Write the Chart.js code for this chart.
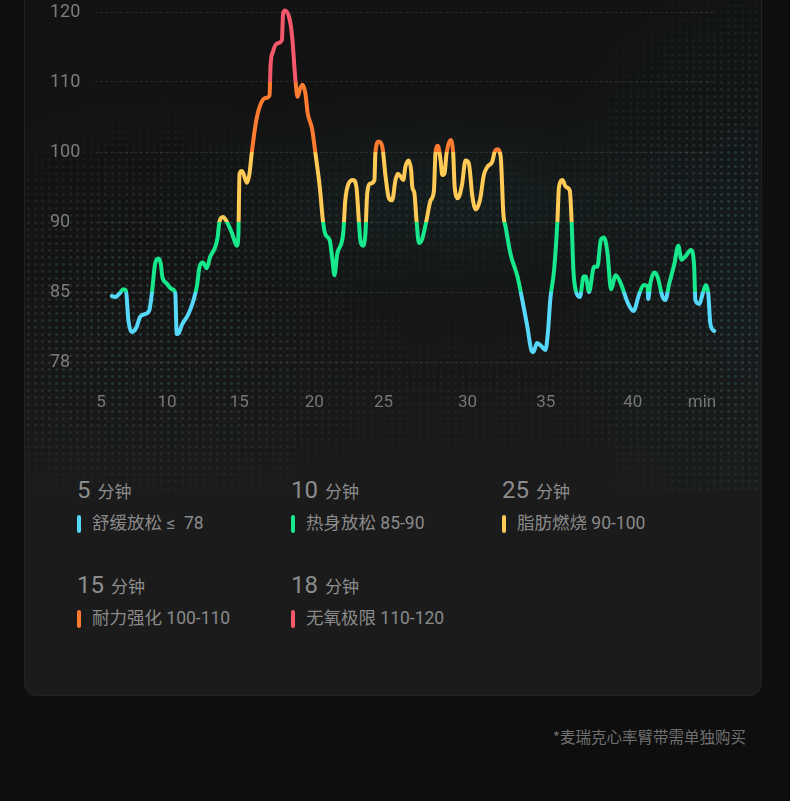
<!DOCTYPE html>
<html lang="zh-CN">
<head>
  <meta charset="UTF-8">
  <title>心率区间</title>
  <script src="https://cdn.jsdelivr.net/npm/chart.js@4.4.0/dist/chart.umd.min.js"></script>
  <style>
    html, body { margin: 0; padding: 0; background: #0e0e0e; }
    body { width: 790px; height: 801px; position: relative; overflow: hidden;
           font-family: Roboto, "Noto Sans CJK SC", sans-serif; }
    .card { position: absolute; left: 24px; top: -20px; width: 738px; height: 716px;
            box-sizing: border-box; border-radius: 12px; background: #1b1b1b;
            border: 1px solid #222; overflow: hidden; }
    .card .bg { position: absolute; left: 0; top: 0; width: 100%; height: 510px;
                background: linear-gradient(to bottom, #121212 0%, #141414 55%, #1b1b1b 100%); }
    .card .glow { position: absolute; left: 0; top: 0; width: 100%; height: 510px;
                  background: radial-gradient(ellipse 300px 110px at 420px 220px, rgba(30,70,68,0.20), transparent 100%),
                              radial-gradient(ellipse 220px 300px at 740px 270px, rgba(30,60,60,0.16), transparent 100%); }
    .card .dots { position: absolute; left: 0; top: 0; width: 100%; height: 510px;
                  background-image: radial-gradient(circle, rgba(70,130,128,0.32) 0 1.1px, transparent 1.7px);
                  background-size: 7px 7px;
                  -webkit-mask-image: radial-gradient(ellipse 260px 220px at 130px 330px, #000 20%, transparent 100%),
                                      radial-gradient(ellipse 230px 320px at 740px 280px, #000 25%, transparent 100%),
                                      radial-gradient(ellipse 260px 80px at 420px 230px, rgba(0,0,0,0.6), transparent 100%),
                                      linear-gradient(to bottom, transparent 60%, rgba(0,0,0,0.35) 80%, transparent 100%);
                  mask-image: radial-gradient(ellipse 260px 220px at 130px 330px, #000 20%, transparent 100%),
                              radial-gradient(ellipse 230px 320px at 740px 280px, #000 25%, transparent 100%),
                              radial-gradient(ellipse 260px 80px at 420px 230px, rgba(0,0,0,0.6), transparent 100%),
                              linear-gradient(to bottom, transparent 60%, rgba(0,0,0,0.35) 80%, transparent 100%); }
    #hr-chart { position: absolute; left: 0; top: 0; }
    .zones { position: absolute; left: 77px; top: 476px; display: grid;
             grid-template-columns: 214px 211px 200px; grid-auto-rows: 95px; }
    .zone .dur { height: 28px; line-height: 28px; color: #8c8c8c; white-space: nowrap; }
    .zone .num { font-size: 24px; }
    .zone .unit { font-size: 17px; margin-left: 7px; }
    .zone .lab { margin-top: 6px; height: 27px; line-height: 27px; font-size: 17.5px; color: #8a8a8a;
                 display: flex; align-items: center; white-space: nowrap; }
    .zone .lab i { display: inline-block; width: 4px; height: 18px; border-radius: 2px; margin-right: 11px; }
    .note { position: absolute; right: 44px; top: 726px; font-size: 15.5px; line-height: 21px; color: #707070;
            font-family: "Noto Sans CJK SC", sans-serif; }
  </style>
</head>
<body>
  <div class="card">
    <div class="bg"></div>
    <div class="glow"></div>
    <div class="dots"></div>
  </div>
  <canvas id="hr-chart" width="790" height="430"></canvas>
  <div class="zones" id="zones"></div>
  <div class="note">*麦瑞克心率臂带需单独购买</div>

  <script>
    // y 轴刻度（等距显示，非线性数值）
    const yTickValues = [78, 85, 90, 100, 110, 120];
    // x 轴刻度：所在采样序号与文字
    const xTickSamples = [0, 22, 46, 71, 94, 122, 148, 177, 200];
    const xTickLabels = ['5', '10', '15', '20', '25', '30', '35', '40', 'min'];

    // 心率曲线：采样序号与心率 (bpm)
    const hrSample = [
      3.6, 4.7, 6.3, 7.4, 8.3, 9.1, 10.2, 11.7, 13.0, 14.7, 16.1, 16.9, 18.0, 19.1, 19.9, 20.4,
      21.9, 23.6, 24.7, 25.2, 25.9, 26.9, 29.1, 30.8, 31.9, 32.8, 33.9, 35.2, 36.3, 38.0, 38.8, 39.4,
      40.6, 41.9, 43.6, 45.2, 45.7, 46.1, 46.9, 48.6, 49.4, 50.2, 51.7, 53.0, 54.7, 56.1, 56.4, 57.2,
      58.6, 60.2, 60.6, 61.3, 62.8, 63.6, 64.7, 65.4, 66.3, 67.1, 68.0, 68.8, 70.2, 71.3, 72.8, 73.9,
      74.7, 76.1, 76.9, 77.7, 78.6, 80.6, 81.3, 82.4, 83.9, 85.0, 85.8, 86.3, 87.2, 88.0, 88.6, 89.7,
      91.0, 91.3, 92.4, 93.6, 94.7, 95.8, 96.9, 98.0, 98.8, 99.7, 100.6, 101.3, 102.4, 103.2, 103.6, 104.3,
      105.0, 105.8, 106.9, 108.3, 109.7, 110.8, 111.3, 112.1, 113.0, 113.6, 114.3, 115.0, 116.3, 117.2, 117.7, 118.8,
      120.2, 121.3, 122.4, 123.6, 124.7, 126.1, 127.4, 128.6, 130.2, 131.0, 131.9, 133.0, 133.9, 134.7, 136.3, 138.6,
      140.2, 141.9, 143.2, 143.9, 145.1, 146.5, 147.9, 148.8, 149.5, 150.8, 151.9, 152.4, 153.6, 154.7, 156.0, 156.6,
      157.2, 158.0, 159.4, 160.6, 161.3, 162.4, 164.1, 165.2, 166.3, 167.4, 168.6, 169.7, 171.3, 173.0, 175.2, 177.2,
      179.1, 180.6, 181.9, 182.1, 182.8, 184.1, 185.2, 186.9, 187.8, 189.1, 190.8, 192.1, 193.2, 194.7, 196.3, 197.4,
      197.8, 199.1, 200.2, 201.3, 202.1, 202.8, 204.1, 205.4
    ];
    const hrBpm = [
      84.6, 84.5, 84.9, 85.2, 85.1, 82.2, 81.0, 81.4, 82.5, 82.8, 83.2, 84.8, 87.0, 87.4, 87.0, 86.1,
      85.6, 85.2, 84.9, 80.8, 80.9, 81.7, 82.8, 84.2, 85.4, 86.8, 87.1, 86.7, 87.5, 88.2, 88.9, 90.0,
      90.7, 90.0, 89.2, 88.3, 89.0, 96.9, 97.3, 95.6, 96.9, 100.0, 104.6, 106.7, 107.7, 108.1, 112.2, 114.3,
      115.5, 116.0, 119.8, 120.2, 118.9, 116.5, 110.3, 107.9, 109.1, 109.6, 108.4, 105.5, 103.4, 100.0, 95.0, 90.0,
      89.1, 88.7, 87.5, 86.2, 87.7, 89.2, 93.1, 95.5, 96.0, 95.0, 90.2, 88.7, 88.3, 89.2, 94.1, 95.5,
      96.0, 99.8, 101.5, 100.8, 96.5, 93.4, 93.1, 96.0, 96.9, 96.5, 96.0, 97.9, 98.8, 97.4, 95.0, 94.1,
      90.2, 88.5, 88.8, 90.2, 93.1, 94.5, 99.8, 100.9, 98.8, 96.7, 96.9, 99.8, 101.7, 99.8, 95.0, 93.4,
      95.5, 98.8, 98.4, 93.6, 91.8, 93.1, 96.7, 97.9, 98.6, 100.0, 100.4, 99.4, 91.2, 89.6, 87.7, 86.1,
      84.2, 81.5, 79.2, 79.0, 79.9, 79.6, 79.2, 81.2, 84.2, 86.6, 90.2, 95.0, 96.0, 95.0, 94.5, 90.2,
      86.6, 85.1, 84.5, 86.1, 86.1, 85.0, 86.8, 86.8, 88.7, 88.9, 87.7, 85.2, 86.2, 85.6, 84.0, 83.1,
      84.8, 85.5, 85.4, 84.3, 85.6, 86.4, 86.1, 84.5, 84.2, 85.6, 87.0, 88.3, 87.3, 87.6, 88.0, 86.8,
      84.2, 83.8, 84.8, 85.5, 84.8, 81.8, 81.1, 81.0
    ];

    // 心率区间图例
    const zoneMinutes = [5, 10, 25, 15, 18];
    const zoneNames = ['舒缓放松', '热身放松', '脂肪燃烧', '耐力强化', '无氧极限'];
    const zoneRanges = ['≤ \u00a078', '85-90', '90-100', '100-110', '110-120'];
    const zoneColors = ['#55d8fb', '#17e88c', '#ffca55', '#ff7b30', '#f5586b'];

    // bpm -> 等距刻度位置
    function toZone(bpm) {
      const v = yTickValues;
      let i = 0;
      while (i < v.length - 2 && bpm > v[i + 1]) i++;
      return i + (bpm - v[i]) / (v[i + 1] - v[i]);
    }

    const points = hrSample.map((x, i) => ({ x: x, y: toZone(hrBpm[i]) }));

    function zoneGradient(context) {
      const chart = context.chart;
      if (!chart.chartArea) return zoneColors[0];
      const y = chart.scales.y;
      const bottom = y.getPixelForValue(0);
      const top = y.getPixelForValue(yTickValues.length - 1);
      const g = chart.ctx.createLinearGradient(0, bottom, 0, top);
      const n = yTickValues.length - 1;
      // 第一个区间（≤85）合并为蓝色
      g.addColorStop(0, zoneColors[0]);
      for (let k = 1; k < n; k++) {
        g.addColorStop(k / n, zoneColors[k - 1]);
        g.addColorStop(k / n, zoneColors[k]);
      }
      g.addColorStop(1, zoneColors[n - 1]);
      return g;
    }

    new Chart(document.getElementById('hr-chart'), {
      type: 'line',
      data: {
        datasets: [{
          data: points,
          borderColor: zoneGradient,
          borderWidth: 4,
          borderCapStyle: 'round',
          borderJoinStyle: 'round',
          cubicInterpolationMode: 'monotone',
          pointRadius: 0,
          fill: false,
          clip: false
        }]
      },
      options: {
        responsive: false,
        animation: false,
        events: [],
        layout: { padding: { left: 50, right: 76, top: 12, bottom: 0 } },
        plugins: { legend: { display: false }, tooltip: { enabled: false } },
        scales: {
          x: {
            type: 'linear',
            min: -2,
            max: 204,
            afterFit: (scale) => { scale.height = 68; },
            afterBuildTicks: (scale) => { scale.ticks = xTickSamples.map(v => ({ value: v })); },
            grid: { display: false, drawTicks: false },
            border: { display: false },
            ticks: {
              autoSkip: false,
              maxRotation: 0,
              padding: 31,
              color: '#767676',
              font: { family: 'Roboto, "Noto Sans CJK SC"', size: 17 },
              callback: (value, index) => xTickLabels[index]
            }
          },
          y: {
            type: 'linear',
            min: 0,
            max: yTickValues.length - 1,
            afterFit: (scale) => { scale.width = 45; },
            afterBuildTicks: (scale) => { scale.ticks = yTickValues.map((v, i) => ({ value: i })); },
            grid: { color: 'rgba(255,255,255,0.09)', lineWidth: 1, drawTicks: false },
            border: { display: false, dash: [3, 2] },
            ticks: {
              autoSkip: false,
              crossAlign: 'far',
              padding: 0,
              color: '#7c7c7c',
              font: { family: 'Roboto, "Noto Sans CJK SC"', size: 18 },
              callback: (value, index) => yTickValues[index]
            }
          }
        }
      }
    });

    // 图例
    const zonesEl = document.getElementById('zones');
    zoneMinutes.forEach((m, i) => {
      const item = document.createElement('div');
      item.className = 'zone';
      item.innerHTML =
        '<div class="dur"><span class="num">' + m + '</span><span class="unit">分钟</span></div>' +
        '<div class="lab"><i style="background:' + zoneColors[i] + '"></i>' +
        zoneNames[i] + ' ' + zoneRanges[i] + '</div>';
      zonesEl.appendChild(item);
    });
  </script>
</body>
</html>
